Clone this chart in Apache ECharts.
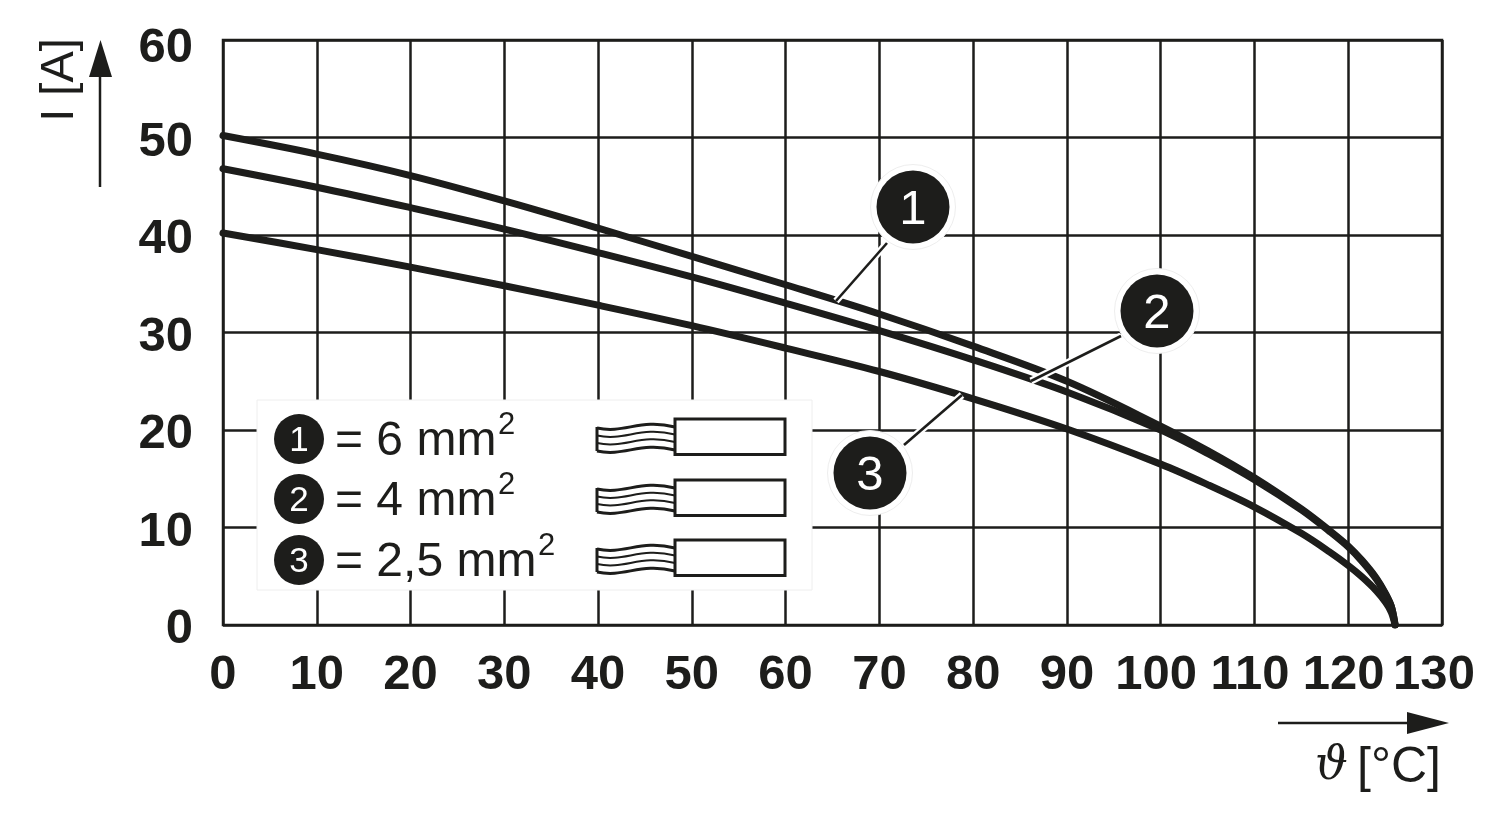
<!DOCTYPE html>
<html><head><meta charset="utf-8">
<style>html,body{margin:0;padding:0;background:#fff}#c{width:1500px;height:820px}</style>
<script src="https://cdn.jsdelivr.net/npm/echarts@6/dist/echarts.min.js"></script>
</head><body><div id="c"></div>
<script>
const temps = [0,10,20,30,40,50,60,70,80,90,100,105,110,115,118,120,121.5,123,124,124.6,125];
const curve6mm  = [50.2,48.3,46.1,43.5,40.7,37.8,34.9,31.9,28.6,25.0,20.4,17.9,15.1,11.9,9.7,8.1,6.6,4.8,3.2,1.9,0];
const curve4mm  = [46.8,44.9,42.8,40.6,38.2,35.7,33.0,30.2,27.2,23.9,20.0,17.6,14.9,11.8,9.6,8.0,6.5,4.7,3.1,1.9,0];
const curve25mm = [40.2,38.5,36.7,34.8,32.8,30.7,28.4,26.0,23.2,20.1,16.5,14.4,12.1,9.4,7.5,6.1,4.9,3.5,2.3,1.3,0];
const legendLabels = ['= 6 mm','= 4 mm','= 2,5 mm'];
const calloutLabels = ['1','2','3'];
const xAxisName = 'ϑ [°C]';
const yAxisName = 'I [A]';

const INK = '#1d1d1b';
const pair = (ys) => temps.map((t,i)=>[t,ys[i]]);
const seriesOf = (name, ys) => ({
  type:'line', name, data:pair(ys), showSymbol:false, smooth:0.35,
  lineStyle:{color:INK,width:7,cap:'round',join:'round'}, silent:true, animation:false, z:5
});

const g = [];
g.push({type:'line',z:20,shape:{x1:100,y1:187,x2:100,y2:70},style:{stroke:INK,lineWidth:2.5}});
g.push({type:'polygon',z:20,shape:{points:[[100.5,40],[112,77],[89,77]]},style:{fill:INK}});
g.push({type:'line',z:20,shape:{x1:1278,y1:723,x2:1415,y2:723},style:{stroke:INK,lineWidth:2.5}});
g.push({type:'polygon',z:20,shape:{points:[[1449,723],[1407,712],[1407,734]]},style:{fill:INK}});
g.push({type:'text',z:20,x:60,y:80,rotation:Math.PI/2,style:{text:yAxisName,font:'47px "Liberation Sans"',fill:INK,align:'center',verticalAlign:'middle'}});
g.push({type:'text',z:20,x:1441,y:768,style:{text:xAxisName.split(' ')[1],font:'50px "Liberation Sans"',fill:INK,align:'right',verticalAlign:'middle'}});
g.push({type:'text',z:20,x:1315,y:767,style:{text:xAxisName.split(' ')[0],font:'italic 46px "DejaVu Serif"',fill:INK,align:'left',verticalAlign:'middle'}});

g.push({type:'rect',z:10,shape:{x:257,y:400,width:555,height:190},style:{fill:'#fff',stroke:'#eeeeee',lineWidth:1}});
const rows = [439,499,560];
const boxes = [419,480,540];
rows.forEach((cy,i)=>{
  g.push({type:'circle',z:11,shape:{cx:299,cy,r:25},style:{fill:INK}});
  g.push({type:'text',z:12,x:299,y:cy+2,style:{text:calloutLabels[i],font:'35px "Liberation Sans"',fill:'#fff',align:'center',verticalAlign:'middle'}});
  g.push({type:'text',z:12,x:335,y:cy+3,style:{text:legendLabels[i],font:'48px "Liberation Sans"',fill:INK,align:'left',verticalAlign:'middle'}});
  const supX = [498,498,538][i];
  g.push({type:'text',z:12,x:supX,y:cy-14,style:{text:'2',font:'31px "Liberation Sans"',fill:INK,align:'left',verticalAlign:'middle'}});
  const by = boxes[i];
  g.push({type:'rect',z:11,shape:{x:675,y:by,width:110,height:35.5},style:{fill:'#fff',stroke:INK,lineWidth:3}});
  [[9,3],[16.5,2],[24,2],[32,3]].forEach(([off,w])=>{
    g.push({type:'bezierCurve',z:11,shape:{x1:597,y1:by+off,cpx1:625,cpy1:by+off+6,cpx2:640,cpy2:by+off-10,x2:675,y2:by+off-1},style:{stroke:INK,lineWidth:w,fill:'none'}});
  });
  g.push({type:'line',z:11,shape:{x1:597,y1:by+8,x2:597,y2:by+32},style:{stroke:INK,lineWidth:3}});
});

[[913,207,887,243,836,301],[1157,311,1121,336,1031,381],[870,473,962,395,904,445]].forEach((c,i)=>{
  const [cx,cy,x1,y1,x2,y2]=c;
  g.push({type:'line',z:13,shape:{x1,y1,x2,y2},style:{stroke:'#fff',lineWidth:7}});
  g.push({type:'line',z:14,shape:{x1,y1,x2,y2},style:{stroke:INK,lineWidth:2.6}});
  g.push({type:'circle',z:15,shape:{cx,cy,r:42.5},style:{fill:'#fff',stroke:'#eeeeee',lineWidth:1}});
  g.push({type:'circle',z:16,shape:{cx,cy,r:36.5},style:{fill:INK}});
  g.push({type:'text',z:17,x:cx,y:cy+3,style:{text:calloutLabels[i],font:'49px "Liberation Sans"',fill:'#fff',align:'center',verticalAlign:'middle'}});
});

const labelFont = {color:INK,fontFamily:'Liberation Sans',fontWeight:'bold',fontSize:49};
const chart = echarts.init(document.getElementById('c'),null,{renderer:'canvas',width:1500,height:820});
chart.setOption({
  animation:false,
  backgroundColor:'#fff',
  grid:{left:223,right:58,top:40,bottom:195,show:true,borderColor:INK,borderWidth:2.5,backgroundColor:'transparent'},
  xAxis:{type:'value',min:0,max:130,interval:10,
    axisLine:{show:false},axisTick:{show:false},
    axisLabel:{...labelFont,margin:26,
      formatter:v=>v>=130?`{e|${v}}`:v>=100?`{d|${v}}`:`{n|${v}}`,
      rich:{n:{...labelFont},d:{...labelFont,padding:[0,9,0,0]},e:{...labelFont,padding:[0,16,0,0]}}},
    splitLine:{show:true,lineStyle:{color:INK,width:2.5}}},
  yAxis:{type:'value',min:0,max:60,interval:10,
    axisLine:{show:false},axisTick:{show:false},
    axisLabel:{...labelFont,margin:30,verticalAlign:'top',
      formatter:v=>v===60?`{t|${v}}`:`{n|${v}}`,
      rich:{n:{...labelFont,lineHeight:9},t:{...labelFont,lineHeight:17}}},
    splitLine:{show:true,lineStyle:{color:INK,width:2.5}}},
  series:[seriesOf('6 mm²',curve6mm),seriesOf('4 mm²',curve4mm),seriesOf('2,5 mm²',curve25mm)],
  graphic:{elements:g}
});
</script></body></html>
